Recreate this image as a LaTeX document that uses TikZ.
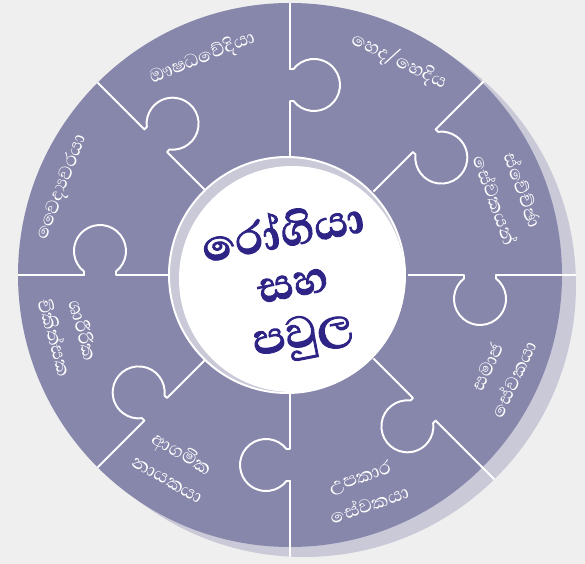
\documentclass[tikz,border=0pt]{standalone}
\usepackage{fontspec}
\newfontfamily\sinhalafont[Script=Sinhala, BoldFeatures={FakeBold=1.6}]{Abhaya Libre}
\definecolor{piece}{RGB}{135,134,171}
\definecolor{pieceshade}{RGB}{201,201,216}
\definecolor{paper}{RGB}{239,239,240}
\definecolor{ink}{RGB}{46,36,134}

\begin{document}
\begin{tikzpicture}[x=0.025cm,y=0.025cm]
  \tikzset{seam/.style={white, line width=1.4pt, line join=round}};
  \tikzset{rolelabel/.style={text=white, align=center, font=\sinhalafont\fontsize{17}{21}\selectfont}};
  \tikzset{centretext/.style={text=ink, align=center, font=\sinhalafont\bfseries\fontsize{40}{36}\selectfont}};

  \fill[paper] (-290,-289) rectangle (295,275);
  \useasboundingbox (-290,-289) rectangle (295,275);
  \fill[pieceshade] (14,-10) circle (272);
  \fill[piece] (0,0) circle (272);

  % seams between the pieces, each with one knob on its clockwise side
  \foreach \a in {90, 135, 180, -135, -90, -45, 0, 45} {
    \draw[seam, rotate=\a, yscale=-1] (118,0) -- (174,0) -- (174,3.5)
      arc[start angle=232, end angle=-52, radius=26] -- (206,0) -- (272,0);
  }
  \begin{scope}
    \clip (14,-10) circle (272);
    \foreach \a in {45, 0, -45, -90}
      \draw[seam] (\a:270) -- (\a:295);
  \end{scope}

  % centre disc
  \fill[pieceshade] (-3,0) circle (118);
  \fill[white] (2,-4) circle (113);
  \draw[seam] (-3,0) circle (118);

  \node[centretext, rotate=11] (patient) at (3,-10) {රෝගියා\\සහ\\පවුල};

  \node[rolelabel, rotate=22] (pharmacist) at (112:234) {ඖෂධවේදියා};
  \node[rolelabel, rotate=-26] (nurse) at (63:240) {හෙද/හෙදිය};
  \node[rolelabel, rotate=-70] (volunteer) at (20:234) {ස්වේච්ඡා\\සේවකයන්};
  \node[rolelabel, rotate=65] (social) at (-25:232) {සමාජ\\සේවකයා};
  \node[rolelabel, rotate=19] (helper) at (-71:228) {උපකාර\\සේවකයා};
  \node[rolelabel, rotate=-30] (religious) at (-121:222) {ආගමික\\නායකයා};
  \node[rolelabel, rotate=-75] (therapist) at (-165:228) {ශාරීරික\\චිකිත්සක};
  \node[rolelabel, rotate=69] (doctor) at (159:244) {වෛද්‍යවරයා};
\end{tikzpicture}
\end{document}
